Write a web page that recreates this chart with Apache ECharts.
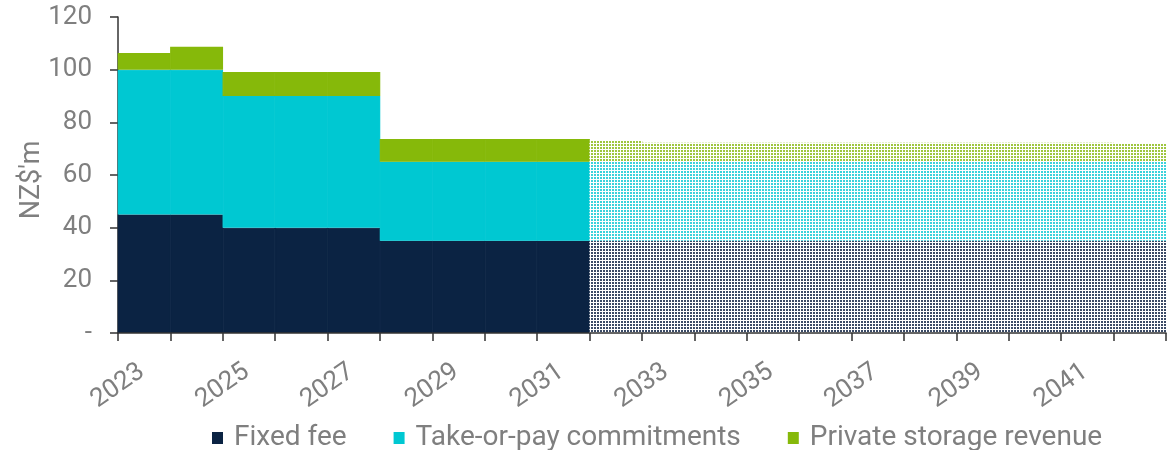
<!DOCTYPE html>
<html>
<head>
<meta charset="utf-8">
<script src="https://cdn.jsdelivr.net/npm/echarts@6/dist/echarts.min.js"></script>
<style>
html,body{margin:0;padding:0;background:#fff;}
#chart{width:1176px;height:450px;}
</style>
</head>
<body>
<div id="chart"></div>
<script>
// ---- data ----
const years = [2023,2024,2025,2026,2027,2028,2029,2030,2031,2032,2033,2034,2035,2036,2037,2038,2039,2040,2041,2042];
const fixedFee = [45,45,40,40,40,35,35,35,35,35,35,35,35,35,35,35,35,35,35,35];
const takeOrPay = [55,55,50,50,50,30,30,30,30,30,30,30,30,30,30,30,30,30,30,30];
const privateStorage = [6.3,8.7,9.1,9.1,9.1,8.7,8.7,8.7,8.7,8.0,7.2,7.2,7.2,7.2,7.2,7.2,7.2,7.2,7.2,6.8];
const forecastFrom = 2032;
const yTicks = [0,20,40,60,80,100,120];
const labelYears = [2023,2025,2027,2029,2031,2033,2035,2037,2039,2041];

const colors = {fixed:'#0b2343', top:'#00c8d2', priv:'#86b90a'};
const patternColors = {fixed:'#3a4a66', top:'#3cd2db', priv:'#9fc640'};
const labelColor = '#7f7f7f';
const FONT = 'Roboto, "Noto Sans", sans-serif';

function makePattern(color){
  const c = document.createElement('canvas');
  c.width = 3; c.height = 3;
  const g = c.getContext('2d');
  g.fillStyle = '#ffffff'; g.fillRect(0,0,3,3);
  g.fillStyle = color; g.fillRect(0,0,2,2);
  return {image:c, repeat:'repeat'};
}
function buildData(values, color, patColor){
  const pat = makePattern(patColor);
  return values.map((v,i)=> years[i] >= forecastFrom
    ? {value:v, itemStyle:{color:pat, borderWidth:0}}
    : {value:v, itemStyle:{color:color, borderColor:color, borderWidth:1.2}});
}

const firstYear = years[0];
const chart = echarts.init(document.getElementById('chart'));
chart.setOption({
  animation:false,
  backgroundColor:'#fff',
  grid:{left:118, right:10, top:17, bottom:117, containLabel:false},
  legend:{
    left:207, top:419,
    itemWidth:11, itemHeight:12, itemGap:47,
    icon:'rect',
    textStyle:{fontFamily:FONT, fontSize:28, color:labelColor, padding:[0,0,0,6]},
    data:['Fixed fee','Take-or-pay commitments','Private storage revenue']
  },
  xAxis:[{
    type:'category',
    data:years.map(String),
    boundaryGap:true,
    axisLine:{show:true, lineStyle:{color:'#333', width:1.5}},
    axisTick:{show:true, interval:0, length:8, lineStyle:{color:'#333', width:1.5}},
    axisLabel:{show:false},
    splitLine:{show:false},
    z:5
  },{
    type:'value',
    position:'bottom',
    min:0, max:years.length, interval:2,
    axisLine:{show:false}, axisTick:{show:false}, splitLine:{show:false},
    axisLabel:{
      show:true, rotate:35, margin:53, align:'center', verticalAlign:'middle',
      fontFamily:FONT, fontSize:26, color:labelColor,
      showMaxLabel:false,
      formatter:function(v){ const y = firstYear + v; return labelYears.indexOf(y) >= 0 ? String(y) : ''; }
    }
  }],
  yAxis:{
    type:'value',
    min:yTicks[0], max:yTicks[yTicks.length-1], interval:20,
    name:"NZ$'m", nameLocation:'middle', nameRotate:90, nameGap:72, nameMoveOverlap:false,
    nameTextStyle:{fontFamily:FONT, fontSize:27, color:labelColor, padding:[0,0,0,-10]},
    axisLine:{show:true, lineStyle:{color:'#333', width:1.5}},
    axisTick:{show:true, length:8, lineStyle:{color:'#333', width:1.5}},
    axisLabel:{margin:26, fontFamily:FONT, fontSize:26, color:labelColor,
      formatter:function(v){ return v === 0 ? '-' : String(v); }},
    splitLine:{show:false}
  },
  series:[
    {name:'Fixed fee', type:'bar', stack:'t', barWidth:'101%', itemStyle:{color:colors.fixed}, data:buildData(fixedFee, colors.fixed, patternColors.fixed)},
    {name:'Take-or-pay commitments', type:'bar', stack:'t', barWidth:'101%', itemStyle:{color:colors.top}, data:buildData(takeOrPay, colors.top, patternColors.top)},
    {name:'Private storage revenue', type:'bar', stack:'t', barWidth:'101%', itemStyle:{color:colors.priv}, data:buildData(privateStorage, colors.priv, patternColors.priv)}
  ]
});
</script>
</body>
</html>
